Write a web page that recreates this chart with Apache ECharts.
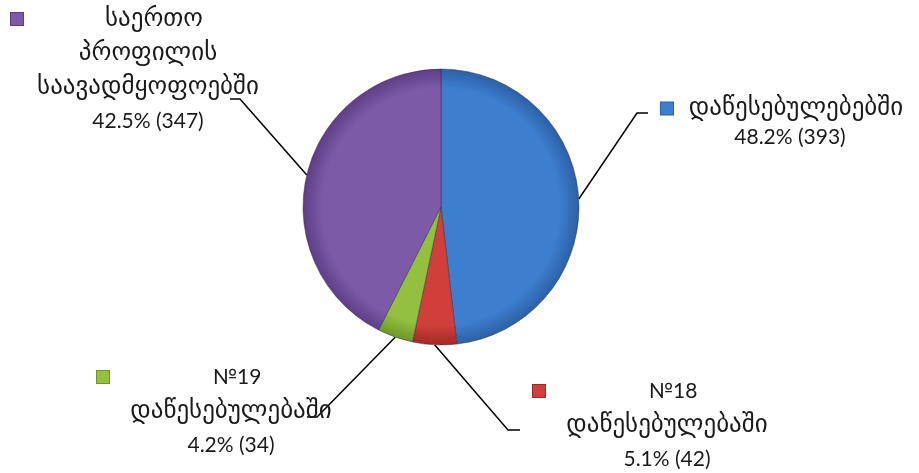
<!DOCTYPE html>
<html>
<head>
<meta charset="utf-8">
<style>
  html, body { margin: 0; padding: 0; background: #ffffff; }
  #chart { width: 919px; height: 473px; }
</style>
<script src="https://cdn.jsdelivr.net/npm/echarts@6/dist/echarts.min.js"></script>
</head>
<body>
<div id="chart"></div>
<script>
// ---- data ----
const categories = [
  'დაწესებულებებში',
  '№18 დაწესებულებაში',
  '№19 დაწესებულებაში',
  'საერთო პროფილის საავადმყოფოებში'
];
const nameLines = [
  ['დაწესებულებებში'],
  ['№18', 'დაწესებულებაში'],
  ['№19', 'დაწესებულებაში'],
  ['საერთო', 'პროფილის', 'საავადმყოფოებში']
];
const values = [393, 42, 34, 347];

// ---- style ----
const baseColors = ['#3d7ecf', '#d13f3a', '#93c040', '#7d5aa8'];
const edgeColors = ['#2c60a6', '#a12a26', '#6e9629', '#5d3e86'];
const CX = 441, CY = 207, R = 138;

// label placement (block centre, width, line height) and leader knees
const labelPlace = [
  { x: 790, y: 123, w: 258, lh: 29, knee: [[637, 113], [648, 113]] },
  { x: 667, y: 425, w: 268, lh: 34, knee: [[508, 430], [520, 430]] },
  { x: 231, y: 411, w: 268, lh: 34, knee: [[317, 417], [307, 417]] },
  { x: 148, y: 70,  w: 274, lh: 34, knee: [[240, 99], [230, 99]] }
];

const latinFont = "Lato, 'DejaVu Sans', sans-serif";
const geoFont = "'DejaVu Sans', sans-serif";
const isGeorgian = s => /[\u10A0-\u10FF]/.test(s);

const rich = {};
baseColors.forEach((c, i) => {
  rich['sq' + i] = {
    width: 12, height: 12, align: 'left',
    backgroundColor: c, borderColor: edgeColors[i], borderWidth: 1
  };
  rich['g' + i] = {
    align: 'center', fontSize: 25, lineHeight: labelPlace[i].lh,
    color: '#1a1a1a', fontFamily: geoFont
  };
  rich['d' + i] = {
    align: 'center', fontSize: 21, lineHeight: labelPlace[i].lh,
    color: '#1a1a1a', fontFamily: latinFont
  };
});

const data = categories.map((name, i) => ({
  name: name,
  value: values[i],
  itemStyle: {
    color: {
      type: 'radial', x: CX, y: CY, r: R, global: true,
      colorStops: [
        { offset: 0, color: baseColors[i] },
        { offset: 0.86, color: baseColors[i] },
        { offset: 1, color: edgeColors[i] }
      ]
    }
  },
  label: { width: labelPlace[i].w }
}));

const chart = echarts.init(document.getElementById('chart'), null, { renderer: 'canvas' });
chart.setOption({
  animation: false,
  backgroundColor: '#ffffff',
  series: [{
    type: 'pie',
    center: [CX, CY],
    radius: R,
    startAngle: 90,
    clockwise: true,
    percentPrecision: 1,
    avoidLabelOverlap: false,
    data: data,
    itemStyle: { borderColor: 'rgba(40,40,60,0.45)', borderWidth: 1 },
    label: {
      show: true,
      position: 'outside',
      overflow: 'none',
      formatter: function (p) {
        const i = p.dataIndex;
        const lines = nameLines[i].slice();
        lines.push(p.percent.toFixed(1) + '% (' + p.value + ')');
        return lines.map((l, k) =>
          (k === 0 ? '{sq' + i + '|}' : '') +
          '{' + (isGeorgian(l) ? 'g' : 'd') + i + '|' + l + '}'
        ).join('\n');
      },
      rich: rich
    },
    labelLine: {
      show: true, smooth: false, length: 20, length2: 10,
      lineStyle: { color: '#000', width: 1.5 }
    },
    labelLayout: function (params) {
      const i = params.dataIndex;
      const pl = labelPlace[i];
      const p0 = params.labelLinePoints ? params.labelLinePoints[0] : null;
      const res = { x: pl.x, y: pl.y, align: 'center', verticalAlign: 'middle' };
      if (p0) res.labelLinePoints = [p0].concat(pl.knee);
      return res;
    }
  }]
});
</script>
</body>
</html>
